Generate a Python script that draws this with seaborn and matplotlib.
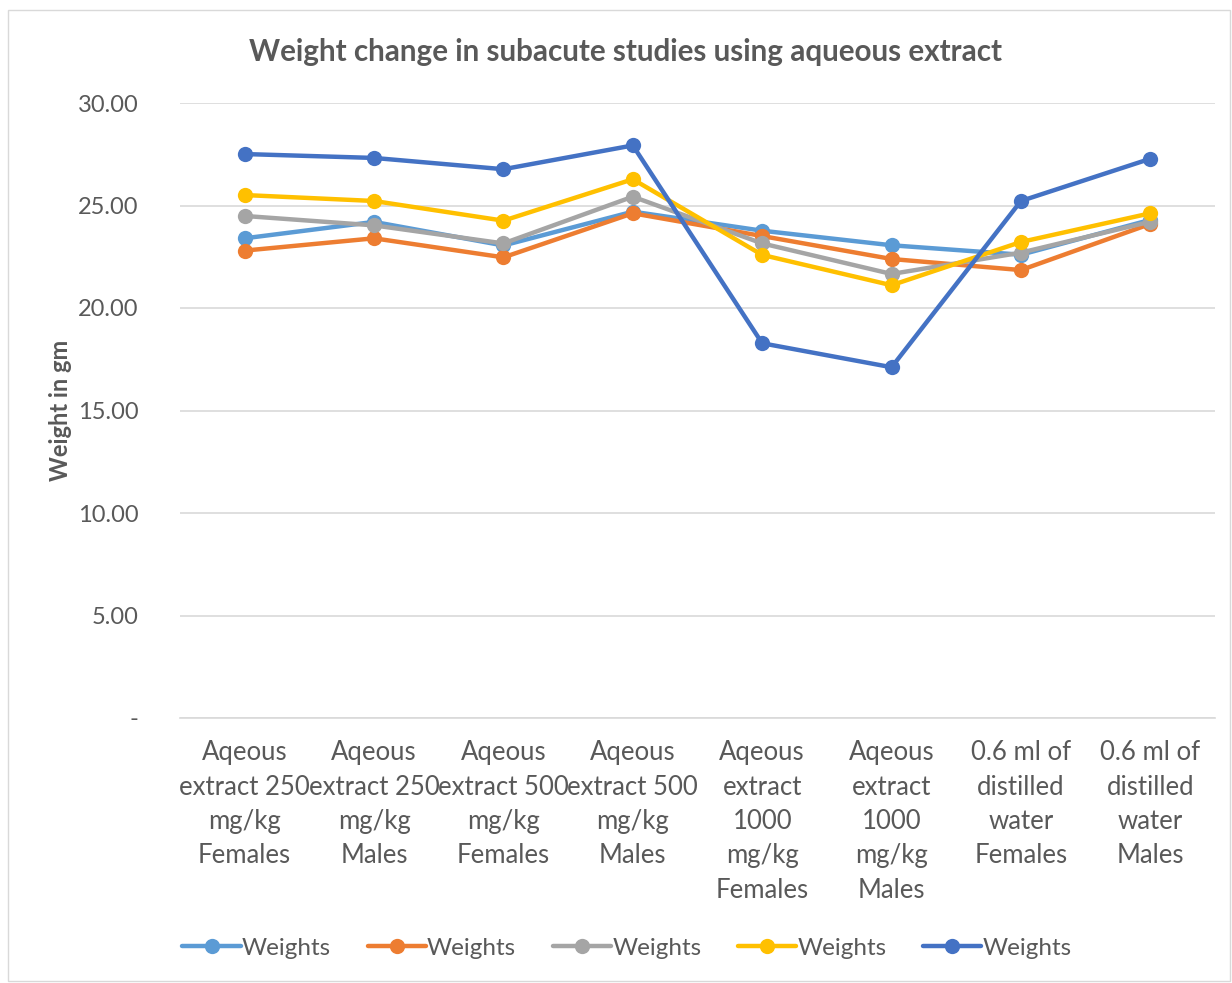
import matplotlib
matplotlib.use("Agg")
import matplotlib.pyplot as plt
from matplotlib.patches import Rectangle
import seaborn as sns
import pandas as pd

groups = [
    "Aqeous\nextract 250\nmg/kg\nFemales",
    "Aqeous\nextract 250\nmg/kg\nMales",
    "Aqeous\nextract 500\nmg/kg\nFemales",
    "Aqeous\nextract 500\nmg/kg\nMales",
    "Aqeous\nextract\n1000\nmg/kg\nFemales",
    "Aqeous\nextract\n1000\nmg/kg\nMales",
    "0.6 ml of\ndistilled\nwater\nFemales",
    "0.6 ml of\ndistilled\nwater\nMales",
]

weights_1 = [23.40, 24.20, 23.05, 24.70, 23.77, 23.06, 22.60, 24.30]
weights_2 = [22.80, 23.40, 22.47, 24.62, 23.51, 22.39, 21.85, 24.10]
weights_3 = [24.49, 24.03, 23.15, 25.43, 23.15, 21.66, 22.70, 24.21]
weights_4 = [25.51, 25.22, 24.26, 26.28, 22.59, 21.11, 23.22, 24.62]
weights_5 = [27.51, 27.32, 26.77, 27.93, 18.28, 17.11, 25.22, 27.28]

series_names = ["s1", "s2", "s3", "s4", "s5"]
series_values = [weights_1, weights_2, weights_3, weights_4, weights_5]
colors = ["#5B9BD5", "#ED7D31", "#A5A5A5", "#FFC000", "#4472C4"]

rows = []
for name, vals in zip(series_names, series_values):
    for i, v in enumerate(vals):
        rows.append({"series": name, "pos": i, "weight": v})
df = pd.DataFrame(rows)

sns.set_theme(style="white")
plt.rcParams["font.family"] = ["Lato", "DejaVu Sans"]
text_color = "#595959"

fig = plt.figure(figsize=(12.32, 9.83), dpi=100)
ax = fig.add_axes([180 / 1232, 1 - 718 / 983, (1215 - 180) / 1232, (718 - 103) / 983])

sns.lineplot(
    data=df, x="pos", y="weight", hue="series", hue_order=series_names,
    palette=colors, marker="o", markersize=11, markeredgewidth=0,
    linewidth=3.2, ax=ax, legend=False,
)

ax.set_xlim(-0.5, len(groups) - 0.5)
ax.set_ylim(0, 30)
ax.set_yticks([0, 5, 10, 15, 20, 25, 30])
ax.set_yticklabels(["-", "5.00", "10.00", "15.00", "20.00", "25.00", "30.00"])
ax.set_xticks(range(len(groups)))
ax.set_xticklabels(groups, linespacing=1.47)
ax.tick_params(axis="x", length=0, labelsize=18.5, colors=text_color, pad=16)
ax.tick_params(axis="y", length=0, labelsize=17, colors=text_color, pad=30)
ax.yaxis.grid(True, color="#D9D9D9", linewidth=1.2)
ax.xaxis.grid(False)
for side in ["top", "right", "left"]:
    ax.spines[side].set_visible(False)
ax.spines["bottom"].set_color("#D9D9D9")
ax.spines["bottom"].set_linewidth(1.2)
ax.set_xlabel("")
ax.set_ylabel("Weight in gm", fontsize=17, fontweight="bold", color=text_color, labelpad=0)
ax.yaxis.set_label_coords((72 - 180) / (1215 - 180), 0.5)

fig.text(0.508, 1 - 52 / 983, "Weight change in subacute studies using aqueous extract",
         ha="center", va="center", fontsize=21.3, fontweight="bold", color=text_color)

handles = [plt.Line2D([0], [0], color=c, linewidth=3.2, marker="o", markersize=11,
                      markeredgewidth=0) for c in colors]
fig.legend(handles, ["Weights"] * 5, loc="center", bbox_to_anchor=(627 / 1232, 1 - 948 / 983),
           ncol=5, frameon=False, fontsize=17.5, labelcolor=text_color,
           handlelength=2.4, handletextpad=0.05, columnspacing=1.5)

fig.patches.append(Rectangle((8 / 1232, 2 / 983), 1222 / 1232, 971 / 983,
                             transform=fig.transFigure, fill=False,
                             edgecolor="#D9D9D9", linewidth=1.0))

fig.savefig("out.png", dpi=100, facecolor="white")
